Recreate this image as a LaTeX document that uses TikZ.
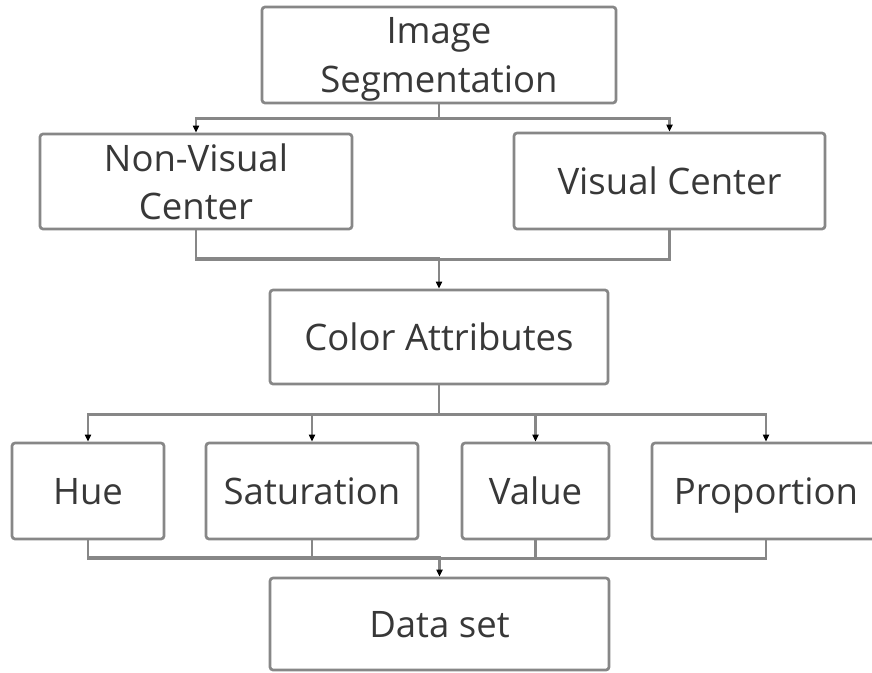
\documentclass[tikz,border=0pt]{standalone}
\usepackage{fontspec}
\setmainfont{Open Sans}
\usetikzlibrary{arrows.meta}
\definecolor{boxline}{HTML}{878787}
\definecolor{txt}{HTML}{383838}
\tikzset{
  blk/.style={draw=boxline, line width=2.7pt, rounded corners=3pt, fill=white,
    text=txt, align=center, inner sep=0pt, text depth=0pt,
    font=\fontsize{36.5}{48.5}\selectfont},
  one/.style={text height=26pt},
  conn/.style={draw=boxline, line width=2.5pt},
  arr/.style={conn, -{Triangle[length=7pt,width=6pt,color=black]}}
}
\begin{document}
\begin{tikzpicture}[x=1pt,y=-1pt]
\useasboundingbox (0,0) rectangle (872,672);
\fill[white] (0,0) rectangle (872,672);
\clip (0,0) rectangle (872,672);

\node[blk, minimum width=354pt, minimum height=96pt] (img) at (439,55) {Image\\Segmentation};
\node[blk, minimum width=312pt, minimum height=95pt] (nv) at (196,181.5) {Non-Visual\\Center};
\node[blk, one, minimum width=311pt, minimum height=96pt] (vc) at (669.5,181) {Visual Center};
\node[blk, one, minimum width=338pt, minimum height=94pt] (ca) at (439,337) {Color Attributes};
\node[blk, one, minimum width=152pt, minimum height=96pt] (hue) at (88,491) {Hue};
\node[blk, one, minimum width=212pt, minimum height=96pt] (sat) at (312,491) {Saturation};
\node[blk, one, minimum width=147pt, minimum height=96pt] (val) at (535.5,491) {Value};
\node[blk, one, minimum width=228pt, minimum height=96pt] (prop) at (766,491) {Proportion};
\node[blk, one, minimum width=339pt, minimum height=92pt] (ds) at (439.5,624) {Data set};

% level 1
\draw[arr] (img.south) -- ++(0,14) -| (nv.north);
\draw[arr] (img.south) -- ++(0,14) -| (vc.north);
% level 2
\draw[conn] (nv.south) -- ++(0,29) -| (vc.south);
\draw[arr] (nv.south |- 0,258) -| (ca.north);
% level 3
\draw[arr] (ca.south) -- ++(0,29) -| (hue.north);
\draw[arr] (ca.south) -- ++(0,29) -| (sat.north);
\draw[arr] (ca.south) -- ++(0,29) -| (val.north);
\draw[arr] (ca.south) -- ++(0,29) -| (prop.north);
% level 4
\draw[conn] (hue.south) -- ++(0,18) -| (prop.south);
\draw[conn] (sat.south) -- ++(0,18);
\draw[conn] (val.south) -- ++(0,18);
\draw[arr] (hue.south |- 0,557) -| (ds.north);
\end{tikzpicture}
\end{document}
